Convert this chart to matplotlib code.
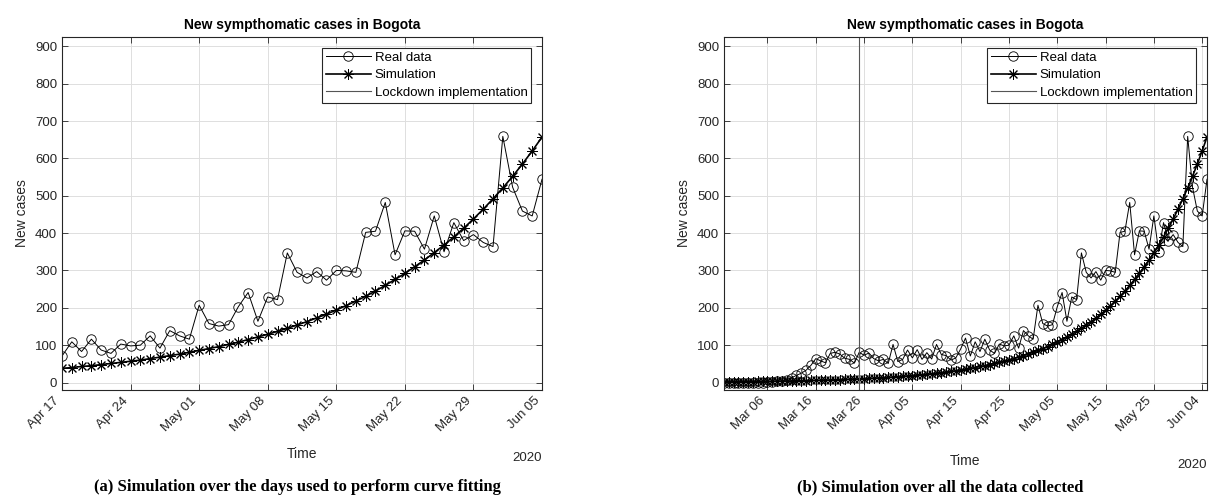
import matplotlib
matplotlib.use('Agg')
import matplotlib.pyplot as plt
import matplotlib.dates as mdates
import pandas as pd

plt.rcParams['font.family'] = ['Liberation Sans', 'DejaVu Sans']

# date ranges of the two panels
start_fit = '2020-04-17'
start_all = '2020-02-26'
end_date = '2020-06-05'
lockdown_date = '2020-03-25'

# new cases, Apr 17 .. Jun 05 (days used for the curve fitting)
real_fit = [71, 109, 83, 116, 87, 78, 103, 98, 100, 125,
            92, 139, 125, 116, 207, 158, 151, 155, 203, 241,
            164, 229, 222, 347, 295, 280, 297, 274, 300, 299,
            295, 402, 405, 482, 342, 406, 405, 357, 446, 350,
            428, 380, 396, 375, 364, 659, 523, 459, 446, 544]
sim_fit = [38, 40, 43, 45, 48, 51, 54, 57, 60, 64,
           68, 72, 76, 81, 86, 91, 96, 102, 108, 115,
           122, 129, 137, 145, 154, 163, 173, 183, 194, 206,
           218, 231, 245, 260, 276, 292, 310, 328, 348, 368,
           390, 413, 438, 464, 492, 521, 552, 585, 620, 657]

# new cases before the fitting window, Feb 26 .. Apr 16
real_early = [0, 0, 0, 0, 0, 0, 0, 0, 0, 1,
              2, 5, 3, 8, 13, 19, 25, 33, 46, 64,
              58, 53, 78, 81, 76, 65, 62, 52, 81, 73,
              79, 64, 58, 62, 51, 102, 56, 62, 87, 66,
              88, 62, 80, 63, 102, 75, 72, 60, 66, 90,
              119]
sim_early = [2, 2, 2, 2, 2.5, 2.5, 2.7, 2.8, 3.0, 3.2,
             3.4, 3.6, 3.8, 4.1, 4.3, 4.6, 4.9, 5.2, 5.5, 5.8,
             6.1, 6.5, 6.9, 7.3, 7.8, 8.2, 8.7, 9.2, 9.8, 10.4,
             11, 11.7, 12.4, 13.1, 13.9, 14.8, 15.7, 16.6, 17.6, 18.7,
             19.8, 21, 22.3, 23.6, 25, 26.5, 28.1, 29.8, 31.6, 33.5,
             35.5]

days_fit = pd.date_range(start_fit, end_date)
days_all = pd.date_range(start_all, end_date)
real_all = real_early + real_fit
sim_all = sim_early + sim_fit

ticks_fit = pd.date_range(start_fit, end_date, freq='7D')
ticks_all = pd.date_range('2020-03-06', '2020-06-04', freq='10D')

axis_col = '#262626'


def draw_panel(ax, days, real, sim, ticks, time_y, year_y):
    # real data: open circles, simulation: asterisks
    ax.plot(days, real, '-', color='k', lw=0.7, marker='o', ms=6.8,
            mfc='none', mec='k', mew=0.6, label='Real data')
    ax.plot(days, sim, '-', color='k', lw=1.2, marker=(8, 2, 0), ms=7.8,
            mew=0.7, label='Simulation')
    ax.axvline(pd.Timestamp(lockdown_date), color='#555555', lw=0.8,
               label='Lockdown implementation')

    ax.set_xlim(days[0], days[-1])
    ax.set_ylim(-20, 925)
    ax.set_yticks(range(0, 901, 100))
    ax.set_xticks(ticks)
    ax.xaxis.set_major_formatter(mdates.DateFormatter('%b %d'))
    for lab in ax.get_xticklabels():
        lab.set_rotation(45)
        lab.set_ha('right')

    ax.grid(True, color='#dedede', lw=0.7)
    ax.set_axisbelow(True)
    ax.tick_params(direction='in', top=True, right=True, length=4,
                   width=0.6, color=axis_col, labelcolor=axis_col,
                   labelsize=9.5)
    for sp in ax.spines.values():
        sp.set_color(axis_col)
        sp.set_linewidth(0.8)

    ax.set_title('New sympthomatic cases in Bogota', fontsize=10,
                 fontweight='bold', pad=6)
    ax.set_ylabel('New cases', fontsize=10, color=axis_col, labelpad=4)
    ax.set_xlabel('Time', fontsize=10, color=axis_col, va='center')
    ax.xaxis.set_label_coords(0.5, -(time_y - 390) / 353)
    ax.text(1.0, -(year_y - 390) / 353, '2020', transform=ax.transAxes,
            ha='right', va='center', fontsize=9.5, color=axis_col)

    leg = ax.legend(loc='upper right', fontsize=9.5, handlelength=3.4,
                    handletextpad=0.3, borderpad=0.3, labelspacing=0.4,
                    borderaxespad=0.8, fancybox=False, framealpha=1)
    leg.get_frame().set_edgecolor(axis_col)
    leg.get_frame().set_linewidth(0.8)


fig = plt.figure(figsize=(12.25, 4.99), dpi=100)
ax1 = fig.add_axes([62 / 1225, 109 / 499, 480 / 1225, 353 / 499])
ax2 = fig.add_axes([724 / 1225, 109 / 499, 483 / 1225, 353 / 499])

draw_panel(ax1, days_fit, real_fit, sim_fit, ticks_fit, 454, 458)
draw_panel(ax2, days_all, real_all, sim_all, ticks_all, 461, 465)

# subfigure captions
fig.text(297 / 1225, 12 / 499, '(a) Simulation over the days used to perform curve fitting',
         ha='center', va='center', fontsize=12, fontweight='bold',
         family='Liberation Serif')
fig.text(940 / 1225, 12 / 499, '(b) Simulation over all the data collected',
         ha='center', va='center', fontsize=12, fontweight='bold',
         family='Liberation Serif')

fig.savefig('out.png', dpi=100)
